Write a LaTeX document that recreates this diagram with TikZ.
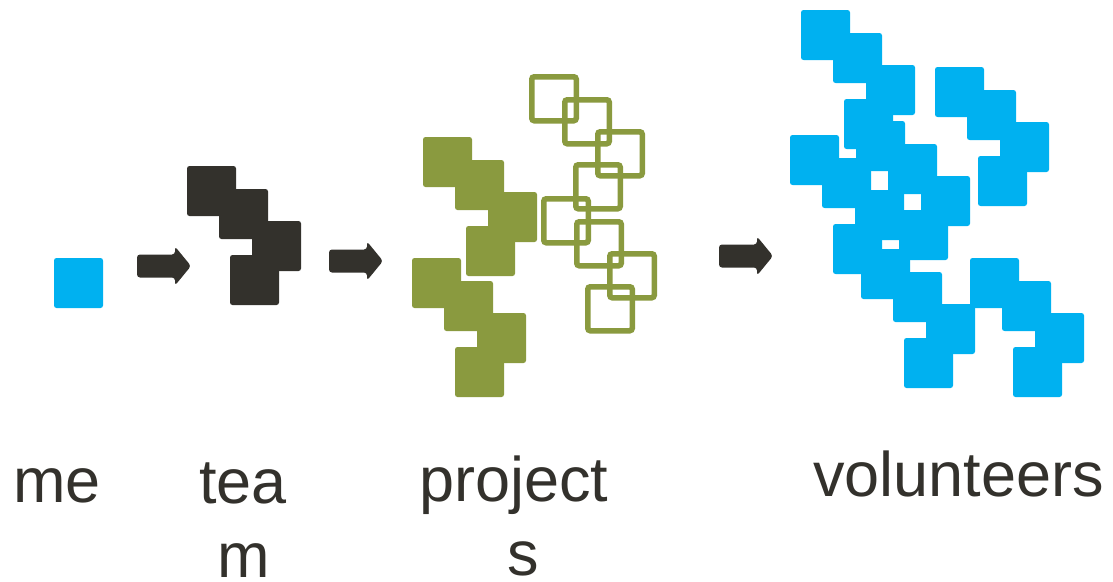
\documentclass[tikz,border=0pt]{standalone}
\usepackage{fontspec}
\setmainfont{Liberation Sans}
\definecolor{skyblue}{HTML}{00B1F0}
\definecolor{olive}{HTML}{8A9A3F}
\definecolor{ink}{HTML}{33312C}
\newcommand\sqmotif[3]{%
  \foreach \dx/\dy in {0/0,32/23,65/55,43/89}{%
    \path[#3] ({#1+\dx},{#2+\dy}) rectangle ++(49,50);
  }%
}
\newcommand\outmotif[2]{%
  \foreach \dx/\dy in {0/0,33/23,66/55,44/88}{%
    \path[outsq] ({#1+\dx+2.75},{#2+\dy+2.75}) rectangle ++(44.5,44);
  }%
}
\newcommand\bigarrow[3]{%
  \fill[ink, rounded corners=3]
    (#1,{#3-11.5}) -- ({#2-16},{#3-11.5}) -- ({#2-16},{#3-19.5}) -- (#2,#3)
    -- ({#2-16},{#3+19.5}) -- ({#2-16},{#3+11.5}) -- (#1,{#3+11.5}) -- cycle;
}
\tikzset{
  bluesq/.style={fill=skyblue, rounded corners=2.5},
  darksq/.style={fill=ink, rounded corners=2.5},
  greensq/.style={fill=olive, rounded corners=2.5},
  outsq/.style={draw=olive, line width=5.5, rounded corners=2.5},
  label/.style={inner sep=0, anchor=base west, text=ink, font=\fontsize{63}{74}\selectfont}
}
\begin{document}
\begin{tikzpicture}[x=1pt, y=-1pt]
\useasboundingbox (0,0) rectangle (1113,581);
% me
\path[bluesq] (54,258) rectangle ++(49,50);
% arrows
\bigarrow{137}{191}{266}
\bigarrow{329}{383}{261}
\bigarrow{719}{773}{256}
% team
\sqmotif{187}{166}{darksq}
% projects
\sqmotif{423}{137}{greensq}
\sqmotif{412}{258}{greensq}
\outmotif{529}{74}
\outmotif{541}{196}
% volunteers
\sqmotif{801}{10}{bluesq}
\sqmotif{935}{67}{bluesq}
\sqmotif{790}{135}{bluesq}
\sqmotif{856}{121}{bluesq}
\sqmotif{861}{249}{bluesq}
\sqmotif{970}{258}{bluesq}
% labels
\node[label] (me) at (13,502) {me};
\node[label] (team1) at (199,503) {tea};
\node[label] (team2) at (217,577) {m};
\node[label] (proj1) at (419,501) {project};
\node[label] (proj2) at (507,575) {s};
\node[label] (vol) at (813,496) {volunteers};
\end{tikzpicture}
\end{document}
